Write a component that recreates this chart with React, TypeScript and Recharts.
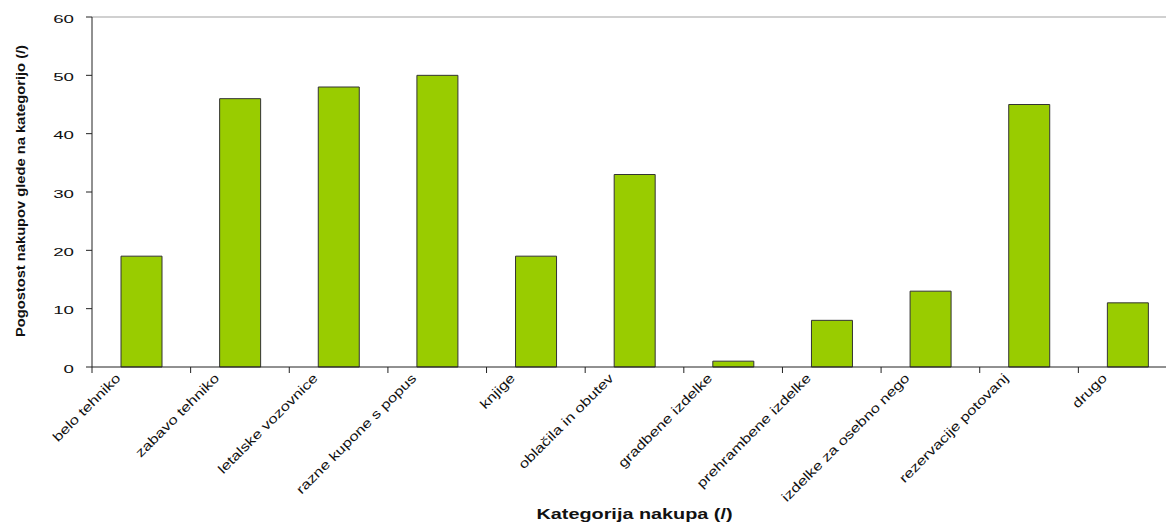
import React from "react";
import { Bar, BarChart, ReferenceLine, XAxis, YAxis } from "recharts";

const categories = [
  "belo tehniko",
  "zabavo tehniko",
  "letalske vozovnice",
  "razne kupone s popus",
  "knjige",
  "oblačila in obutev",
  "gradbene izdelke",
  "prehrambene izdelke",
  "izdelke za osebno nego",
  "rezervacije potovanj",
  "drugo",
];
const purchaseCounts = [19, 46, 48, 50, 19, 33, 1, 8, 13, 45, 11];
const yTicks = [0, 10, 20, 30, 40, 50, 60];

const data = categories.map((name, i) => ({ name, value: purchaseCounts[i] }));

const FONT = '"Liberation Sans", Arial, sans-serif';
const AXIS = "#222";
const CHART_W = 1177;
const Y_AXIS_W = 92;
const BAND = (CHART_W - Y_AXIS_W) / categories.length;

// boundary tick between categories + rotated, stretched label
function CategoryTick(props: any) {
  const { x, y, payload } = props;
  const left = x - BAND / 2;
  return (
    <g>
      <line x1={left} x2={left} y1={y} y2={y + 6} stroke={AXIS} strokeWidth={1} />
      <text
        transform={`translate(${x - 20},${y + 12}) rotate(-45) scale(1.28,1)`}
        textAnchor="end"
        fontSize={13}
        fontFamily={FONT}
        fill="#111"
      >
        {payload.value}
      </text>
    </g>
  );
}

function ValueTick(props: any) {
  const { x, y, payload } = props;
  return (
    <text
      transform={`translate(${x - 12},${y + 5.5}) scale(1.7,1)`}
      textAnchor="end"
      fontSize={11}
      fontFamily={FONT}
      fill="#111"
    >
      {payload.value}
    </text>
  );
}

function XTitle({ viewBox }: any) {
  const { x, y, width, height } = viewBox;
  return (
    <text
      x={x + width / 2}
      y={y + height - 3.5}
      textAnchor="middle"
      fontSize={14}
      fontWeight="bold"
      fontFamily={FONT}
      textLength={196}
      lengthAdjust="spacingAndGlyphs"
      fill="#111"
    >
      Kategorija nakupa (/)
    </text>
  );
}

function YTitle({ viewBox }: any) {
  const { x, y, height } = viewBox;
  const cx = x + 25;
  const cy = y + height / 2 - 1;
  return (
    <text
      transform={`translate(${cx},${cy}) rotate(-90)`}
      textAnchor="middle"
      fontSize={13}
      fontWeight="bold"
      fontFamily={FONT}
      textLength={292}
      lengthAdjust="spacingAndGlyphs"
      fill="#111"
    >
      Pogostost nakupov glede na kategorijo (/)
    </text>
  );
}

export default function App() {
  return (
    <div
      style={{
        position: "absolute",
        left: 0,
        top: 0,
        width: 1166,
        height: 522,
        overflow: "hidden",
        background: "#fff",
      }}
    >
      <BarChart
        width={CHART_W}
        height={522}
        data={data}
        margin={{ top: 17, right: 0, bottom: 0, left: 0 }}
      >
        <XAxis
          dataKey="name"
          height={155}
          interval={0}
          tickSize={0}
          tickMargin={0}
          tickLine={false}
          axisLine={{ stroke: AXIS }}
          tick={<CategoryTick />}
          label={{ content: <XTitle /> }}
        />
        <YAxis
          width={Y_AXIS_W}
          domain={[0, 60]}
          ticks={yTicks}
          tickSize={6}
          tickMargin={0}
          tickLine={{ stroke: AXIS }}
          axisLine={{ stroke: AXIS }}
          tick={<ValueTick />}
          label={{ content: <YTitle /> }}
        />
        <ReferenceLine y={60} stroke="#c0c0c0" strokeWidth={1.5} />
        <Bar
          dataKey="value"
          fill="#99cc00"
          stroke="#333"
          strokeWidth={1}
          barSize={41}
          isAnimationActive={false}
        />
      </BarChart>
    </div>
  );
}
